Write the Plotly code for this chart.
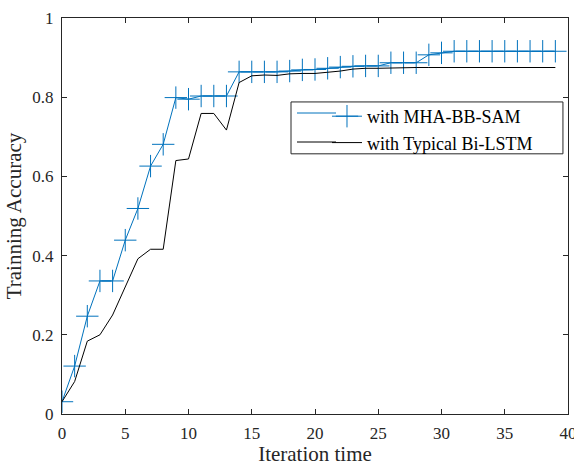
import plotly.graph_objects as go

iterations = list(range(40))
mha_bb_sam = [0.031, 0.121, 0.247, 0.336, 0.336, 0.439, 0.519, 0.626, 0.681, 0.799,
              0.795, 0.803, 0.803, 0.803, 0.864, 0.864, 0.864, 0.864, 0.866, 0.869,
              0.870, 0.873, 0.876, 0.878, 0.879, 0.879, 0.887, 0.887, 0.887, 0.907,
              0.912, 0.916, 0.916, 0.916, 0.916, 0.916, 0.916, 0.916, 0.916, 0.916]
typical_bilstm = [0.031, 0.082, 0.184, 0.200, 0.250, 0.320, 0.392, 0.416, 0.416, 0.640,
                  0.644, 0.759, 0.759, 0.717, 0.837, 0.854, 0.856, 0.855, 0.859, 0.860,
                  0.860, 0.863, 0.866, 0.871, 0.873, 0.873, 0.874, 0.874, 0.875, 0.875,
                  0.875, 0.875, 0.875, 0.875, 0.875, 0.875, 0.875, 0.875, 0.875, 0.875]
x_ticks = [0, 5, 10, 15, 20, 25, 30, 35, 40]
y_ticks = [0, 0.2, 0.4, 0.6, 0.8, 1]
y_tick_text = ["0", "0.2", "0.4", "0.6", "0.8", "1"]

FONT = "Liberation Serif, Times New Roman, serif"
BLUE = "#0072BD"
AX = "#262626"

fig = go.Figure()
fig.add_trace(go.Scatter(
    x=iterations, y=mha_bb_sam, name="with MHA-BB-SAM",
    mode="lines+markers",
    line=dict(color=BLUE, width=1),
    marker=dict(symbol="cross-thin", size=16, line=dict(color=BLUE, width=1), color=BLUE),
))
fig.add_trace(go.Scatter(
    x=iterations, y=typical_bilstm, name="with Typical Bi-LSTM",
    mode="lines",
    line=dict(color="black", width=1),
))

axis_common = dict(
    showgrid=False, zeroline=False, showline=True, linecolor=AX, linewidth=1,
    mirror="ticks", ticks="inside", ticklen=5, tickcolor=AX, tickwidth=1,
    tickfont=dict(family=FONT, size=17, color=AX),
    automargin=False, ticklabeloverflow="allow",
)
fig.update_xaxes(range=[0, 40], tickvals=x_ticks, **axis_common, ticklabelstandoff=4,
                 title=dict(text="Iteration time", font=dict(family=FONT, size=21, color=AX), standoff=2))
fig.update_yaxes(range=[0, 1], tickvals=y_ticks, ticktext=y_tick_text, **axis_common, ticklabelstandoff=4,
                 title=dict(text="Trainning Accuracy", font=dict(family=FONT, size=21, color=AX), standoff=4))

# legend frame (wider than plotly's default legend box, as in the reference)
fig.add_shape(type="rect", xref="paper", yref="paper",
              x0=0.4526, x1=0.990, y0=0.657, y1=0.788,
              line=dict(color=AX, width=1), fillcolor="white", layer="above")
# longer legend sample lines, as in the reference
fig.add_shape(type="line", xref="paper", yref="paper",
              x0=(297 - 62) / 506, x1=(336 - 62) / 506, y0=(414 - 113) / 396, y1=(414 - 113) / 396,
              line=dict(color=BLUE, width=1), layer="above")
fig.add_shape(type="line", xref="paper", yref="paper",
              x0=(297 - 62) / 506, x1=(336 - 62) / 506, y0=(414 - 142) / 396, y1=(414 - 142) / 396,
              line=dict(color="black", width=1), layer="above")

fig.update_layout(
    width=574, height=466,
    margin=dict(l=62, r=6, t=18, b=52),
    paper_bgcolor="white", plot_bgcolor="white",
    showlegend=True,
    legend=dict(
        x=0.5237, y=0.798, xanchor="left", yanchor="top",
        bgcolor="rgba(0,0,0,0)", borderwidth=0,
        font=dict(family=FONT, size=18, color="black"),
        tracegroupgap=0, itemsizing="trace",
    ),
)

fig.write_html("out.html", config={"displayModeBar": False},
               post_script="document.body.style.margin='0';document.body.style.padding='0';document.body.style.overflow='hidden';")
